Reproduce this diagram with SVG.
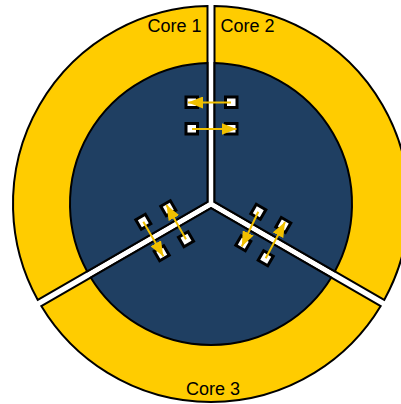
<svg xmlns="http://www.w3.org/2000/svg" width="401" height="404" viewBox="0 0 401 404">
  <defs>
    <style>
      .outer { fill: #FFCC00; stroke: #000; stroke-width: 2; stroke-linejoin: miter; }
      .inner { fill: #1F3F62; stroke: #000; stroke-width: 2; stroke-linejoin: miter; }
      .lbl { font-family: "Liberation Sans", Arial, sans-serif; font-size: 18px; fill: #000; text-anchor: middle; }
      .port { fill: #fff; stroke: #000; stroke-width: 3; }
      .arr { stroke: #F0C000; stroke-width: 2; fill: none; marker-end: url(#ah); }
    </style>
    <marker id="ah" markerUnits="userSpaceOnUse" viewBox="0 0 15 12" refX="15" refY="6" markerWidth="15" markerHeight="12" orient="auto">
      <path d="M0,0 L15,6 L0,12 Z" fill="#F0C000"/>
    </marker>
  </defs>
  <rect width="401" height="404" fill="#fff"/>

  <g id="core1">
    <path class="outer" d="M207.5,201.98 L37.80,299.95 A198,198 0 0 1 207.5,6.03 Z"/>
    <path class="inner" d="M207.5,201.98 L87.18,271.45 A141,141 0 0 1 207.5,63.04 Z"/>
    <text class="lbl" x="174.5" y="31.5">Core 1</text>
  </g>
  <g id="core2">
    <path class="outer" d="M214.5,201.98 L214.5,6.03 A198,198 0 0 1 384.20,299.95 Z"/>
    <path class="inner" d="M214.5,201.98 L214.5,63.04 A141,141 0 0 1 334.82,271.45 Z"/>
    <text class="lbl" x="247.5" y="31.5">Core 2</text>
  </g>
  <g id="core3">
    <path class="outer" d="M211,208.04 L380.70,306.02 A198,198 0 0 1 41.30,306.02 Z"/>
    <path class="inner" d="M211,208.04 L331.32,277.51 A141,141 0 0 1 90.68,277.51 Z"/>
    <text class="lbl" x="213" y="395">Core 3</text>
  </g>

  <g id="ports">
    <rect id="p1" class="port" x="186" y="97" width="11.5" height="10.5"/>
    <rect id="p2" class="port" x="225.5" y="97" width="11.5" height="10.5"/>
    <rect id="p3" class="port" x="186" y="123.5" width="11.5" height="10.5"/>
    <rect id="p4" class="port" x="225.5" y="123.5" width="11.5" height="10.5"/>
    <rect id="p5" class="port" x="-5.5" y="-5.5" width="11" height="11" transform="translate(143.3,221.7) rotate(-30)"/>
    <rect id="p6" class="port" x="-5.5" y="-5.5" width="11" height="11" transform="translate(168.3,208.3) rotate(-30)"/>
    <rect id="p7" class="port" x="-5.5" y="-5.5" width="11" height="11" transform="translate(161.7,253.3) rotate(-30)"/>
    <rect id="p8" class="port" x="-5.5" y="-5.5" width="11" height="11" transform="translate(186,239.3) rotate(-30)"/>
    <rect id="p9" class="port" x="-5.5" y="-5.5" width="11" height="11" transform="translate(258.3,211.7) rotate(30)"/>
    <rect id="p10" class="port" x="-5.5" y="-5.5" width="11" height="11" transform="translate(283.3,225) rotate(30)"/>
    <rect id="p11" class="port" x="-5.5" y="-5.5" width="11" height="11" transform="translate(243.3,243.3) rotate(30)"/>
    <rect id="p12" class="port" x="-5.5" y="-5.5" width="11" height="11" transform="translate(265.7,258.3) rotate(30)"/>
  </g>

  <g id="connectors">
    <line class="arr" x1="231" y1="102.5" x2="188" y2="102.5"/>
    <line class="arr" x1="192" y1="129" x2="236.5" y2="129"/>
    <line class="arr" x1="143.3" y1="221.7" x2="163.3" y2="256.3"/>
    <line class="arr" x1="186" y1="239.3" x2="166.5" y2="205"/>
    <line class="arr" x1="258.3" y1="211.7" x2="241.8" y2="246.5"/>
    <line class="arr" x1="265.7" y1="258.3" x2="285" y2="222"/>
  </g>
</svg>
